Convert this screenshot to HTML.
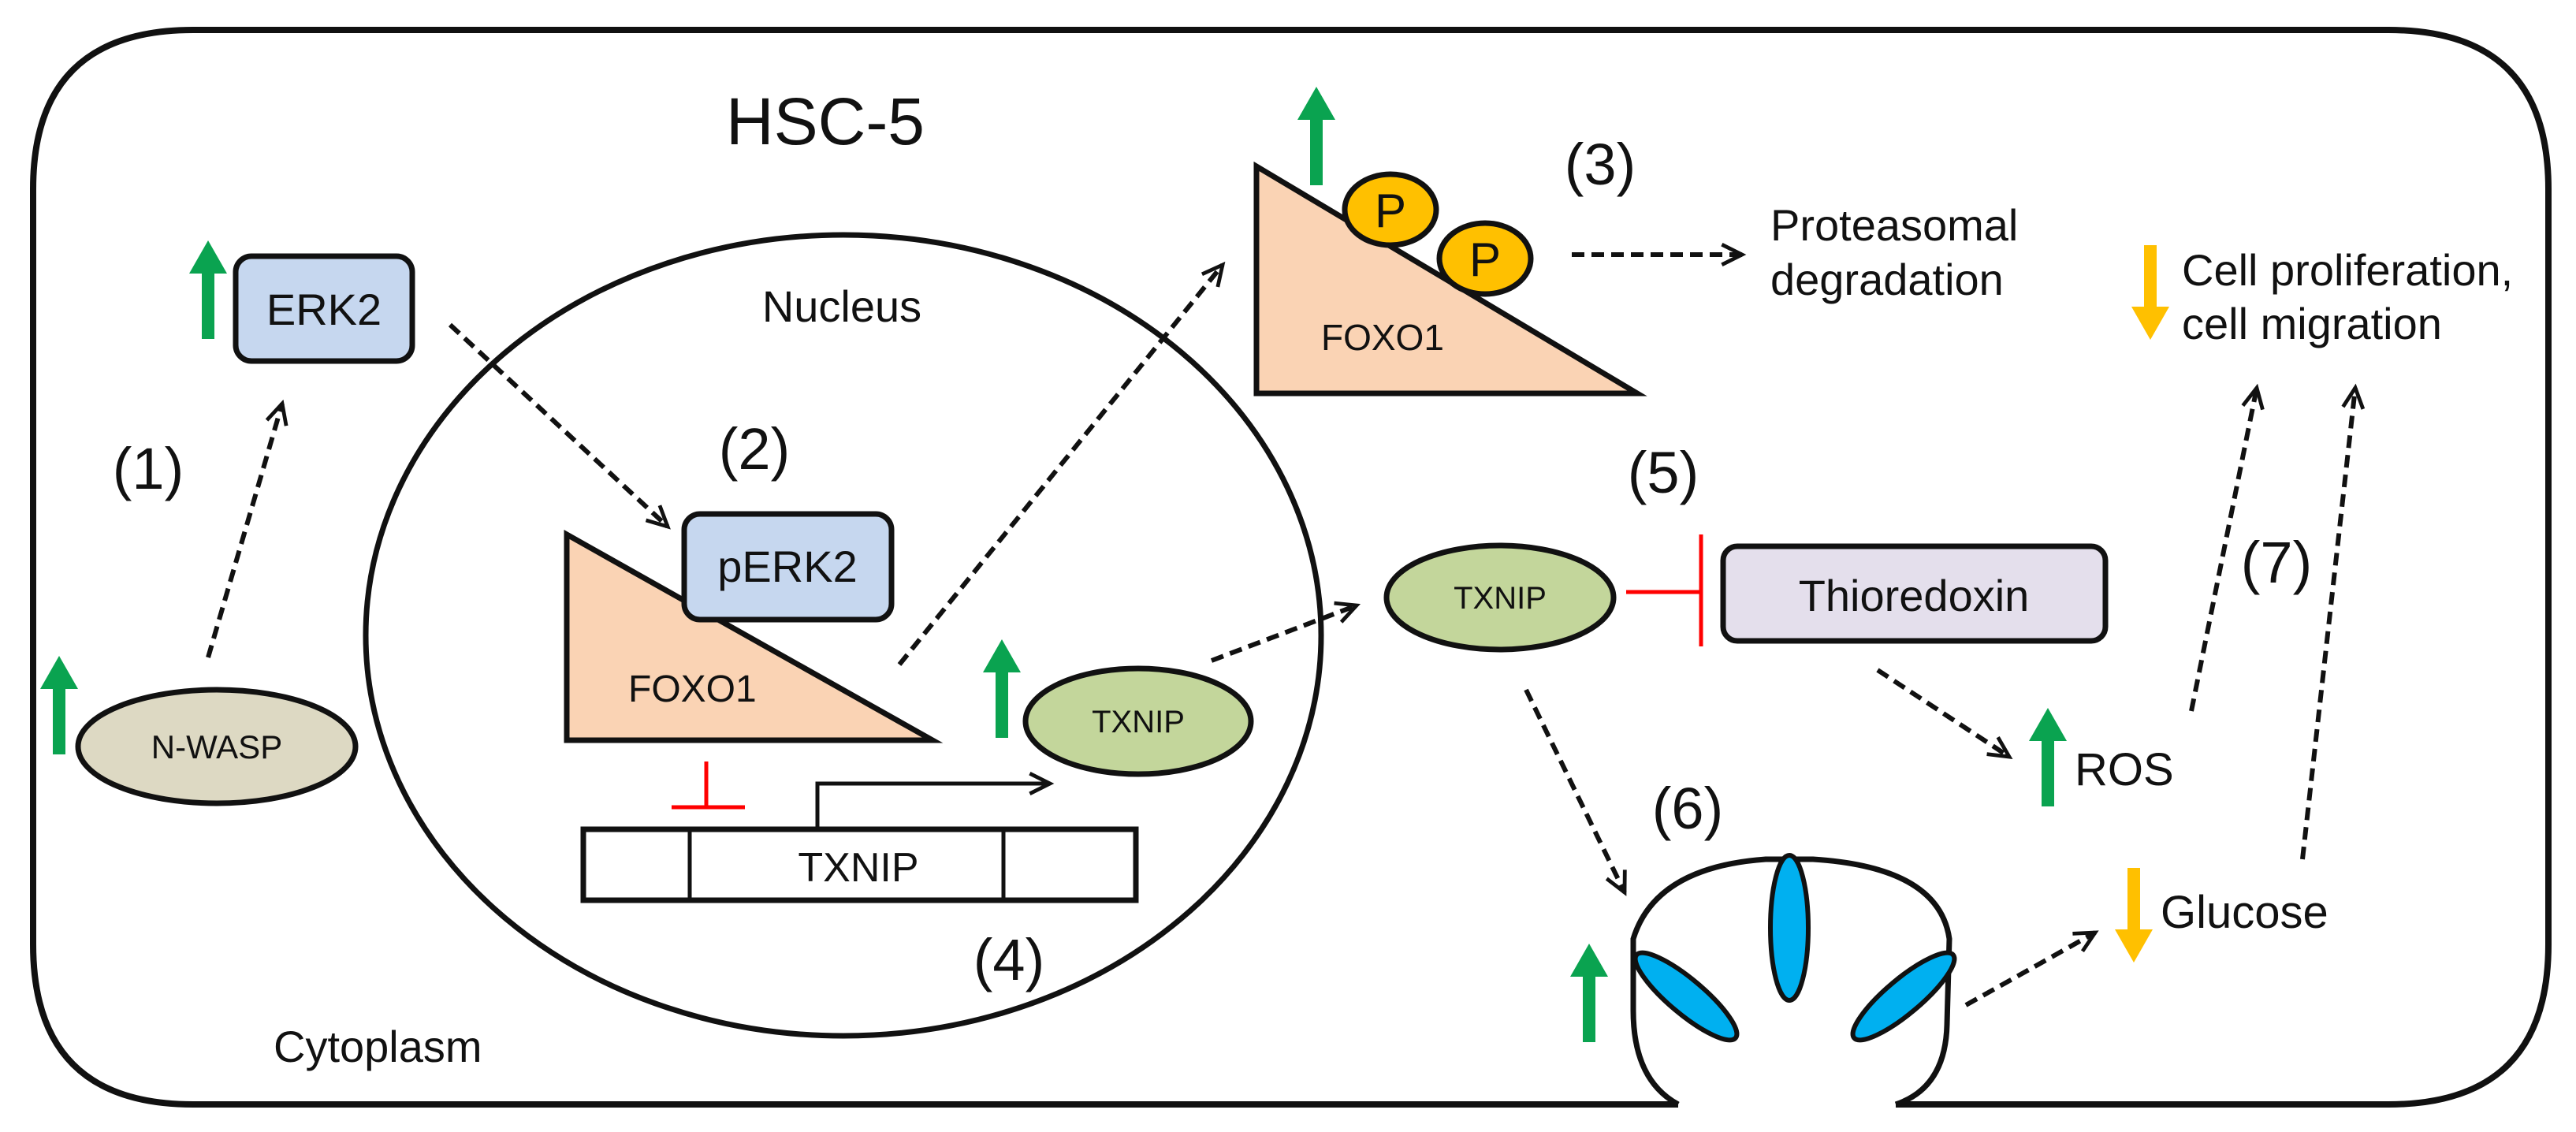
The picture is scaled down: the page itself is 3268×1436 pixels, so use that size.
<!DOCTYPE html>
<html><head><meta charset="utf-8"><style>
html,body{margin:0;padding:0;background:#fff}
svg{display:block}
text{font-family:"Liberation Sans",Arial,sans-serif;fill:#111}
</style></head><body>
<svg width="3268" height="1436" viewBox="0 0 3268 1436" xmlns="http://www.w3.org/2000/svg">
<defs>
<marker id="ah" viewBox="0 0 20 20" refX="18" refY="10" markerWidth="16" markerHeight="16" markerUnits="userSpaceOnUse" orient="auto" overflow="visible">
<path d="M-14,-6 L18,10 L-14,26" fill="none" stroke="#111" stroke-width="6"/>
</marker>
<g id="gup"><polygon points="0,0 24,42 8,42 8,125 -8,125 -8,42 -24,42" fill="#0aa350"/></g>
<g id="odn"><polygon points="0,120 24,78 8,78 8,0 -8,0 -8,78 -24,78" fill="#ffc000"/></g>
</defs>

<path d="M2129,1401 L245,1401 Q42,1401 42,1198 L42,240 Q42,38 245,38 L3030,38 Q3233,38 3233,240 L3233,1198 Q3233,1401 3030,1401 L2405,1401" fill="none" stroke="#111" stroke-width="8"/>
<path d="M2129,1401 Q2072,1370 2072,1282 L2072,1191 Q2100,1100 2240,1090 L2300,1090 Q2460,1100 2473,1191 L2470,1300 Q2468,1380 2405,1401" fill="#fff" stroke="#111" stroke-width="7"/>
<ellipse cx="2270" cy="1177" rx="24" ry="92" fill="#00b0f0" stroke="#111" stroke-width="6"/>
<ellipse cx="2139" cy="1264" rx="82" ry="22" transform="rotate(40 2139 1264)" fill="#00b0f0" stroke="#111" stroke-width="6"/>
<ellipse cx="2415" cy="1264" rx="82" ry="22" transform="rotate(-40 2415 1264)" fill="#00b0f0" stroke="#111" stroke-width="6"/>

<text x="1047" y="183" font-size="84" text-anchor="middle">HSC-5</text>

<ellipse cx="1070" cy="806" rx="606" ry="508" fill="none" stroke="#111" stroke-width="7"/>
<text x="1068" y="408" font-size="56" text-anchor="middle">Nucleus</text>
<text x="347" y="1347" font-size="56">Cytoplasm</text>

<rect x="299" y="325" width="224" height="133" rx="20" fill="#c6d7ef" stroke="#111" stroke-width="7"/>
<text x="411" y="412" font-size="56" text-anchor="middle">ERK2</text>
<use href="#gup" x="264" y="305"/>
<text x="188" y="620" font-size="74" text-anchor="middle">(1)</text>

<ellipse cx="275" cy="947" rx="176" ry="72" fill="#ddd9c3" stroke="#111" stroke-width="7"/>
<text x="275" y="962" font-size="42" text-anchor="middle">N-WASP</text>
<use href="#gup" x="75" y="832"/>

<g fill="none" stroke="#111" stroke-width="6" stroke-dasharray="16 9" marker-end="url(#ah)">
<line x1="264" y1="834" x2="358" y2="512"/>
<line x1="571" y1="412" x2="847" y2="668"/>
<line x1="1141" y1="843" x2="1551" y2="336"/>
<line x1="1994" y1="323" x2="2210" y2="323"/>
<line x1="1537" y1="838" x2="1721" y2="768"/>
<line x1="2382" y1="850" x2="2549" y2="960"/>
<line x1="1936" y1="875" x2="2061" y2="1132"/>
<line x1="2494" y1="1275" x2="2658" y2="1183"/>
<line x1="2780" y1="902" x2="2863" y2="492"/>
<line x1="2921" y1="1090" x2="2988" y2="492"/>
</g>

<polygon points="719,678 719,939 1183,939" fill="#fad3b4" stroke="#111" stroke-width="7" stroke-linejoin="miter"/>
<text x="797" y="890" font-size="48">FOXO1</text>
<rect x="868" y="652" width="263" height="134" rx="20" fill="#c6d7ef" stroke="#111" stroke-width="7"/>
<text x="999" y="738" font-size="56" text-anchor="middle">pERK2</text>
<text x="957" y="595" font-size="74" text-anchor="middle">(2)</text>

<g stroke="#ff0000" stroke-width="5"><line x1="896" y1="966" x2="896" y2="1024"/><line x1="852" y1="1024" x2="945" y2="1024"/></g>

<rect x="740" y="1052" width="701" height="90" fill="#fff" stroke="#111" stroke-width="7"/>
<line x1="875" y1="1052" x2="875" y2="1142" stroke="#111" stroke-width="5"/>
<line x1="1273" y1="1052" x2="1273" y2="1142" stroke="#111" stroke-width="5"/>
<text x="1089" y="1118" font-size="52" text-anchor="middle">TXNIP</text>
<path d="M1037,1052 L1037,994 L1332,994" fill="none" stroke="#111" stroke-width="5" marker-end="url(#ah)"/>

<use href="#gup" x="1271" y="811"/>
<ellipse cx="1444" cy="915" rx="143" ry="67" fill="#c3d69b" stroke="#111" stroke-width="7"/>
<text x="1444" y="929" font-size="40" text-anchor="middle">TXNIP</text>
<text x="1280" y="1243" font-size="74" text-anchor="middle">(4)</text>

<polygon points="1594,211 1594,499 2077,499" fill="#fad3b4" stroke="#111" stroke-width="7"/>
<text x="1676" y="444" font-size="46">FOXO1</text>
<use href="#gup" x="1670" y="110"/>
<ellipse cx="1764" cy="266" rx="58" ry="45" fill="#ffc000" stroke="#111" stroke-width="7"/>
<text x="1764" y="288" font-size="60" text-anchor="middle">P</text>
<ellipse cx="1884" cy="328" rx="58" ry="45" fill="#ffc000" stroke="#111" stroke-width="7"/>
<text x="1884" y="350" font-size="60" text-anchor="middle">P</text>
<text x="2030" y="234" font-size="74" text-anchor="middle">(3)</text>
<text x="2246" y="305" font-size="56">Proteasomal</text>
<text x="2246" y="374" font-size="56">degradation</text>

<use href="#odn" x="2728" y="311"/>
<text x="2768" y="362" font-size="56">Cell proliferation,</text>
<text x="2768" y="430" font-size="56">cell migration</text>

<text x="2110" y="625" font-size="74" text-anchor="middle">(5)</text>
<ellipse cx="1903" cy="758" rx="144" ry="66" fill="#c3d69b" stroke="#111" stroke-width="7"/>
<text x="1903" y="772" font-size="40" text-anchor="middle">TXNIP</text>
<g stroke="#ff0000" stroke-width="5"><line x1="2063" y1="751" x2="2158" y2="751"/><line x1="2158" y1="678" x2="2158" y2="820"/></g>
<rect x="2186" y="693" width="485" height="120" rx="18" fill="#e4dfec" stroke="#111" stroke-width="7"/>
<text x="2428" y="775" font-size="56" text-anchor="middle">Thioredoxin</text>

<use href="#gup" x="2598" y="898"/>
<text x="2632" y="996" font-size="58">ROS</text>
<text x="2888" y="739" font-size="74" text-anchor="middle">(7)</text>
<text x="2141" y="1051" font-size="74" text-anchor="middle">(6)</text>
<use href="#gup" x="2016" y="1197"/>

<use href="#odn" x="2707" y="1101"/>
<text x="2741" y="1177" font-size="58">Glucose</text>
</svg>
</body></html>
